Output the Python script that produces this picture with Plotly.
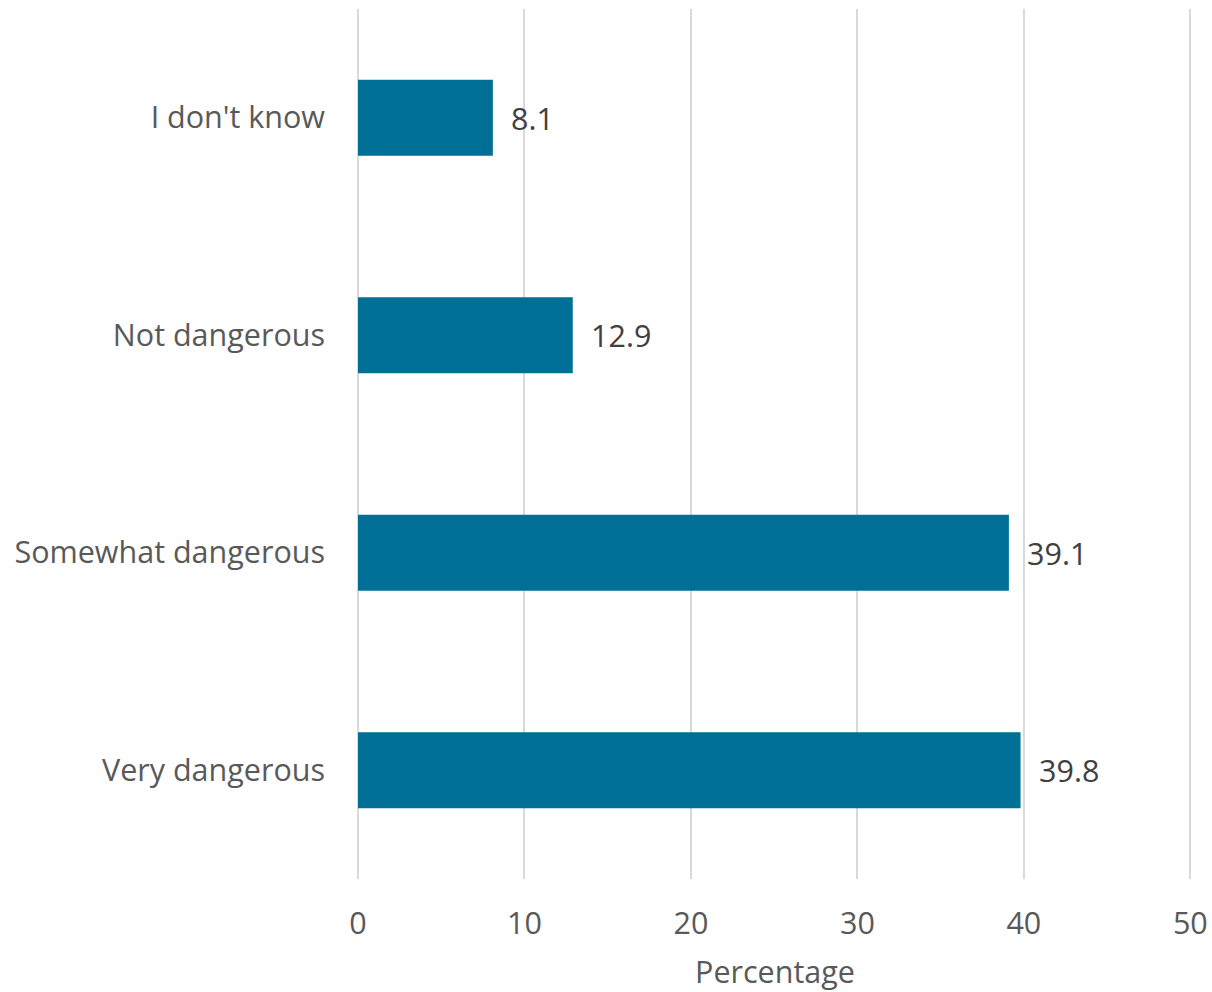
import plotly.graph_objects as go

# Survey responses, listed bottom-to-top as drawn on the category axis
categories = ["Very dangerous", "Somewhat dangerous", "Not dangerous", "I don't know"]
percentages = [39.8, 39.1, 12.9, 8.1]
x_ticks = [0, 10, 20, 30, 40, 50]

BAR_COLOR = "#006F96"
GRID_COLOR = "#D9D9D9"
FONT = "Open Sans, Segoe UI, sans-serif"
FS = 30.5

fig = go.Figure(
    go.Bar(
        x=percentages,
        y=categories,
        orientation="h",
        marker=dict(color=BAR_COLOR, line=dict(width=0)),
        hoverinfo="skip",
    )
)

# Value labels placed just right of each bar end
for cat, val in zip(categories, percentages):
    fig.add_annotation(
        x=val, y=cat, text=f"{val:.1f}", showarrow=False,
        xanchor="left", yanchor="middle", xshift=16,
        font=dict(family=FONT, size=FS, color="#404040"),
    )

fig.update_layout(
    width=1212, height=992,
    margin=dict(l=358, r=20, t=9, b=113, autoexpand=False),
    plot_bgcolor="white", paper_bgcolor="white",
    bargap=0.65,
    showlegend=False,
    font=dict(family=FONT, size=FS, color="#595959"),
    xaxis=dict(
        # small overshoot keeps the 50 gridline inside the plot area
        range=[0, 50.1], tickvals=x_ticks,
        automargin=False,
        showgrid=True, gridcolor=GRID_COLOR, gridwidth=2,
        zeroline=True, zerolinecolor=GRID_COLOR, zerolinewidth=2,
        showline=False, ticks="",
        ticklabelstandoff=23,
        tickfont=dict(size=FS, color="#595959"),
        title=dict(text="Percentage", font=dict(size=FS, color="#595959"), standoff=24),
    ),
    yaxis=dict(
        type="category", categoryorder="array", categoryarray=categories,
        range=[-0.5, 3.5],
        automargin=False,
        showgrid=False, zeroline=False, showline=False, ticks="",
        ticklabelstandoff=32,
        tickfont=dict(size=FS, color="#595959"),
    ),
)

fig.write_html("out.html")
